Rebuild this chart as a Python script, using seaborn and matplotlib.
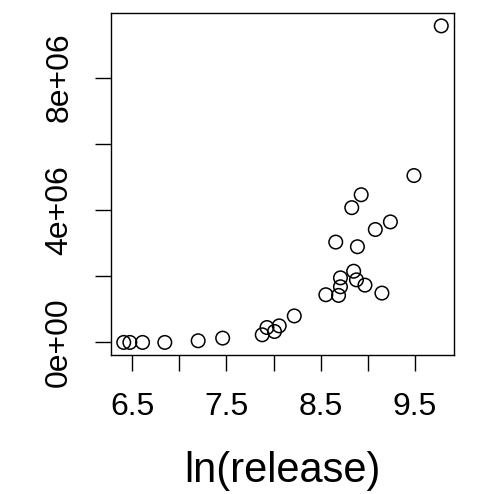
import matplotlib
matplotlib.use("Agg")
import matplotlib.pyplot as plt
import seaborn as sns
import pandas as pd

ln_release = [6.41, 6.475, 6.61, 6.846, 7.20, 7.46, 7.88, 7.93, 8.01, 8.06,
              8.22, 8.555, 8.69, 8.71, 8.71, 8.66, 8.85, 8.88, 8.89, 8.97,
              9.15, 8.83, 8.93, 9.08, 9.24, 9.49, 9.78]
value = [0.0, 0.0, 0.0, 0.0, 0.05e6, 0.13e6, 0.23e6, 0.45e6, 0.33e6, 0.50e6,
         0.80e6, 1.44e6, 1.42e6, 1.68e6, 1.95e6, 3.03e6, 2.15e6, 1.89e6, 2.89e6, 1.73e6,
         1.49e6, 4.07e6, 4.46e6, 3.41e6, 3.64e6, 5.04e6, 9.56e6]

x_ticks = [6.5, 7.0, 7.5, 8.0, 8.5, 9.0, 9.5]
x_labels = ["6.5", "", "7.5", "", "8.5", "", "9.5"]
y_ticks = [0, 2e6, 4e6, 6e6, 8e6]
y_labels = ["0e+00", "", "4e+06", "", "8e+06"]

df = pd.DataFrame({"x": ln_release, "y": value})

sns.set_style("white")
plt.rcParams["font.family"] = ["Liberation Sans", "DejaVu Sans"]
plt.rcParams["text.color"] = "black"
plt.rcParams["axes.labelcolor"] = "black"
plt.rcParams["xtick.color"] = "black"
plt.rcParams["ytick.color"] = "black"

fig = plt.figure(figsize=(4.99, 4.94), dpi=100)
ax = fig.add_axes([111/499, 1-355/494, (454-111)/499, (355-13.3)/494])
sns.scatterplot(data=df, x="x", y="y", ax=ax, s=95, facecolor="none",
                edgecolor="black", linewidth=1.1, marker="o", legend=False)

ax.set_xlim(6.275, 9.915)
ax.set_ylim(-0.38e6, 9.94e6)
ax.set_xticks(x_ticks)
ax.set_xticklabels(x_labels)
ax.set_yticks(y_ticks)
ax.set_yticklabels(y_labels, rotation=90, va="center")
ax.tick_params(axis="both", direction="out", length=11.5, width=1.0, color="black",
               labelcolor="black", labelsize=23, bottom=True, left=True)
ax.tick_params(axis="x", pad=15)
ax.tick_params(axis="y", pad=15)
for sp in ax.spines.values():
    sp.set_color("black")
    sp.set_linewidth(1.0)
ax.set_xlabel("ln(release)", fontsize=30, labelpad=21, color="black")
ax.set_ylabel("")
fig.savefig("out.png", dpi=100)
